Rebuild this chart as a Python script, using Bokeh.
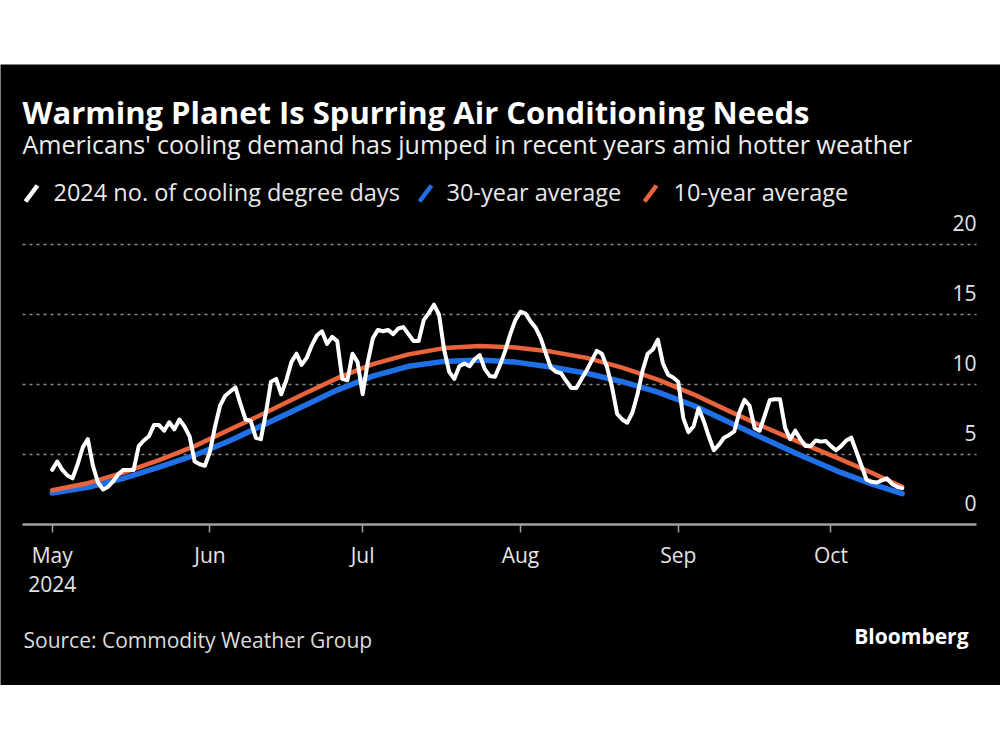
import pandas as pd
from bokeh.plotting import figure
from bokeh.models import Range1d, FixedTicker, Label, ColumnDataSource, Spacer
from bokeh.layouts import column
from bokeh.embed import file_html
from bokeh.resources import INLINE
from bokeh.core.properties import value

# ---------------- data ----------------
START = "2024-05-01"
# 2024 daily cooling degree days, May 1 .. Oct 15
cdd_2024 = [
    3.9, 4.5, 3.9, 3.5, 3.3, 4.3, 5.5, 6.1, 4.2, 3.0,
    2.5, 2.7, 3.1, 3.6, 3.9, 3.9, 3.9, 5.6, 6.0, 6.3,
    7.1, 7.1, 6.7, 7.3, 6.8, 7.5, 7.0, 6.3, 4.5, 4.3,
    4.2, 5.2, 7.0, 8.5, 9.2, 9.5, 9.8, 8.6, 7.5, 7.4,
    6.2, 6.1, 8.0, 10.2, 10.4, 9.3, 10.3, 11.6, 12.2, 11.4,
    11.9, 12.8, 13.5, 13.8, 12.9, 13.4, 13.1, 10.4, 10.3, 12.2,
    11.6, 9.3, 11.6, 13.3, 13.9, 13.8, 13.9, 13.6, 14.0, 14.1,
    13.6, 13.1, 13.1, 14.6, 15.1, 15.7, 15.0, 12.5, 10.9, 10.4,
    11.3, 11.5, 11.3, 11.8, 12.1, 11.1, 10.6, 10.55, 11.4, 12.4,
    13.6, 14.6, 15.2, 15.06, 14.5, 14.05, 13.3, 12.2, 11.2, 10.9,
    10.8, 10.25, 9.75, 9.75, 10.4, 11.0, 11.7, 12.4, 12.2, 11.25,
    9.8, 7.9, 7.5, 7.27, 8.0, 9.3, 11.0, 12.2, 12.5, 13.2,
    11.5, 10.7, 10.5, 10.2, 7.6, 6.6, 7.0, 8.3, 7.4, 6.3,
    5.3, 5.7, 6.2, 6.4, 6.65, 8.0, 8.9, 8.5, 6.9, 6.7,
    7.8, 8.9, 8.94, 8.94, 6.9, 6.1, 6.7, 6.1, 5.6, 5.6,
    6.0, 5.92, 5.96, 5.6, 5.3, 5.6, 6.0, 6.2, 5.2, 4.2,
    3.2, 3.05, 3.0, 3.15, 3.3, 2.9, 2.7, 2.6,
]
avg_dates = [
    "2024-05-01", "2024-05-08", "2024-05-15", "2024-05-22", "2024-05-29",
    "2024-06-05", "2024-06-12", "2024-06-19", "2024-06-26", "2024-07-03",
    "2024-07-10", "2024-07-17", "2024-07-24", "2024-07-31", "2024-08-07",
    "2024-08-14", "2024-08-21", "2024-08-28", "2024-09-04", "2024-09-11",
    "2024-09-18", "2024-09-25", "2024-10-02", "2024-10-09", "2024-10-15",
]
avg_30yr = [
    2.25, 2.65, 3.3, 4.1, 4.95, 6.0, 7.2, 8.4, 9.6, 10.6,
    11.3, 11.65, 11.75, 11.6, 11.25, 10.8, 10.2, 9.45, 8.5, 7.3,
    6.1, 4.95, 3.85, 2.9, 2.2,
]
avg_10yr = [
    2.45, 2.95, 3.7, 4.6, 5.6, 6.8, 8.0, 9.25, 10.45, 11.45,
    12.15, 12.6, 12.75, 12.65, 12.35, 11.9, 11.2, 10.35, 9.3, 8.1,
    6.95, 5.85, 4.8, 3.7, 2.7,
]
month_ticks = ["2024-05-01", "2024-06-01", "2024-07-01", "2024-08-01", "2024-09-01", "2024-10-01"]
month_labels = ["May\n2024", "Jun", "Jul", "Aug", "Sep", "Oct"]
y_ticks = [0, 5, 10, 15, 20]
y_labels = ["0", "5", "10", "15", "20"]
legend_labels = ["2024 no. of cooling degree days", "30-year average", "10-year average"]
series_colors = ["#ffffff", "#1f6fe6", "#e9643c"]

TITLE = "Warming Planet Is Spurring Air Conditioning Needs"
SUBTITLE = "Americans' cooling demand has jumped in recent years amid hotter weather"
SOURCE = "Source: Commodity Weather Group"
BRAND = "Bloomberg"

# ---------------- helpers ----------------
DAY = 86400000.0
def ms(d):
    return pd.Timestamp(d).value / 1e6

t0 = ms(START)
x_start = t0 - 5.83 * DAY   # left end of axis / gridlines
x_end = t0 + 181.6 * DAY    # right end of axis / gridlines
PX_PER_UNIT = 14.0

# page coordinates -> data coordinates (axis spans page x 22..976, zero at page y 524)
def X(px):
    return x_start + (px - 22) / (976 - 22) * (x_end - x_start)

def Y(py):
    return (524 - py) / PX_PER_UNIT

FONT = "Open Sans"

daily_dates = pd.date_range(START, periods=len(cdd_2024), freq="D")
src_daily = ColumnDataSource(dict(x=daily_dates, y=cdd_2024))
src_avg = ColumnDataSource(dict(x=pd.to_datetime(avg_dates), a30=avg_30yr, a10=avg_10yr))

# figure occupies page x 0..1000, y 64..685 ; the frame is the whole figure
p = figure(
    width=1000, height=621,
    x_axis_type="datetime",
    x_range=Range1d(X(0), X(1000)), y_range=Range1d(Y(685), Y(64)),
    y_axis_location=None, x_axis_location="below",
    output_backend="svg", toolbar_location=None,
    background_fill_color="black", border_fill_color="black",
    outline_line_color=None,
    min_border_left=0, min_border_right=0, min_border_top=0, min_border_bottom=0,
)
p.grid.visible = False

# dotted horizontal gridlines
gy = y_ticks[1:]
p.segment(x0=[x_start] * len(gy), x1=[x_end] * len(gy), y0=gy, y1=gy,
          line_color="#8a8a8a", line_dash="3 4", line_width=1.5)

ax = p.xaxis[0]
ax.fixed_location = 0
ax.bounds = (x_start, x_end)
tick_ms = [int(ms(d)) for d in month_ticks]
ax.ticker = FixedTicker(ticks=tick_ms)
ax.major_label_overrides = {t: lab for t, lab in zip(tick_ms, month_labels)}
ax.axis_line_color = "#a0a0a0"
ax.axis_line_width = 2.5
ax.major_tick_line_color = "#a0a0a0"
ax.major_tick_line_width = 1.5
ax.major_tick_in = 0
ax.major_tick_out = 8
ax.minor_tick_line_color = None
ax.major_label_text_color = "#e4e4e4"
ax.major_label_text_font = FONT
ax.major_label_text_font_size = "21px"
ax.major_label_text_line_height = 1.05
ax.major_label_standoff = 8

# series
p.line("x", "a30", source=src_avg, line_color=series_colors[1], line_width=5.5, line_join="round", line_cap="round")
p.line("x", "a10", source=src_avg, line_color=series_colors[2], line_width=4.5, line_join="round", line_cap="round")
p.line("x", "y", source=src_daily, line_color=series_colors[0], line_width=4, line_join="round", line_cap="round")

# y tick labels (right side, above gridlines)
ysrc = ColumnDataSource(dict(x=[x_end] * len(y_ticks), y=y_ticks, t=y_labels))
p.text("x", "y", text="t", source=ysrc, text_align="right", text_baseline="alphabetic",
       y_offset=-22, text_color="#e4e4e4", text_font=value(FONT), text_font_size="21px")

# texts (baseline positions corrected for the renderer's baseline offset ~0.38*size)
def lab(text, px, py, size, color="#e8e8e8", bold=False, align="left", font=FONT):
    p.add_layout(Label(x=X(px), y=Y(py - 0.38 * size), text=text, text_font=font,
                       text_font_size=f"{size}px", text_color=color,
                       text_font_style="bold" if bold else "normal",
                       text_align=align, text_baseline="alphabetic"))

lab(TITLE, 22, 123, 31, color="#ffffff", bold=True)
lab(SUBTITLE, 22, 153, 25, color="#ececec")

# legend: slanted colour swatches + labels
legend_slash_x = [25, 419, 644]
legend_text_x = [53, 446, 673]
p.segment(x0=[X(sx) for sx in legend_slash_x], y0=[Y(201)] * 3,
          x1=[X(sx + 12) for sx in legend_slash_x], y1=[Y(185)] * 3,
          line_color=series_colors, line_width=4.5, line_cap="butt")
for lbl, tx in zip(legend_labels, legend_text_x):
    lab(lbl, tx, 200, 23.5, color="#e8e8e8")

lab(SOURCE, 23, 647, 21, color="#dcdcdc")
lab(BRAND, 968, 643, 21, color="#ffffff", bold=True, align="right")

layout = column(Spacer(height=64, width=1000), p)
open("out.html", "w").write(file_html(layout, INLINE))
